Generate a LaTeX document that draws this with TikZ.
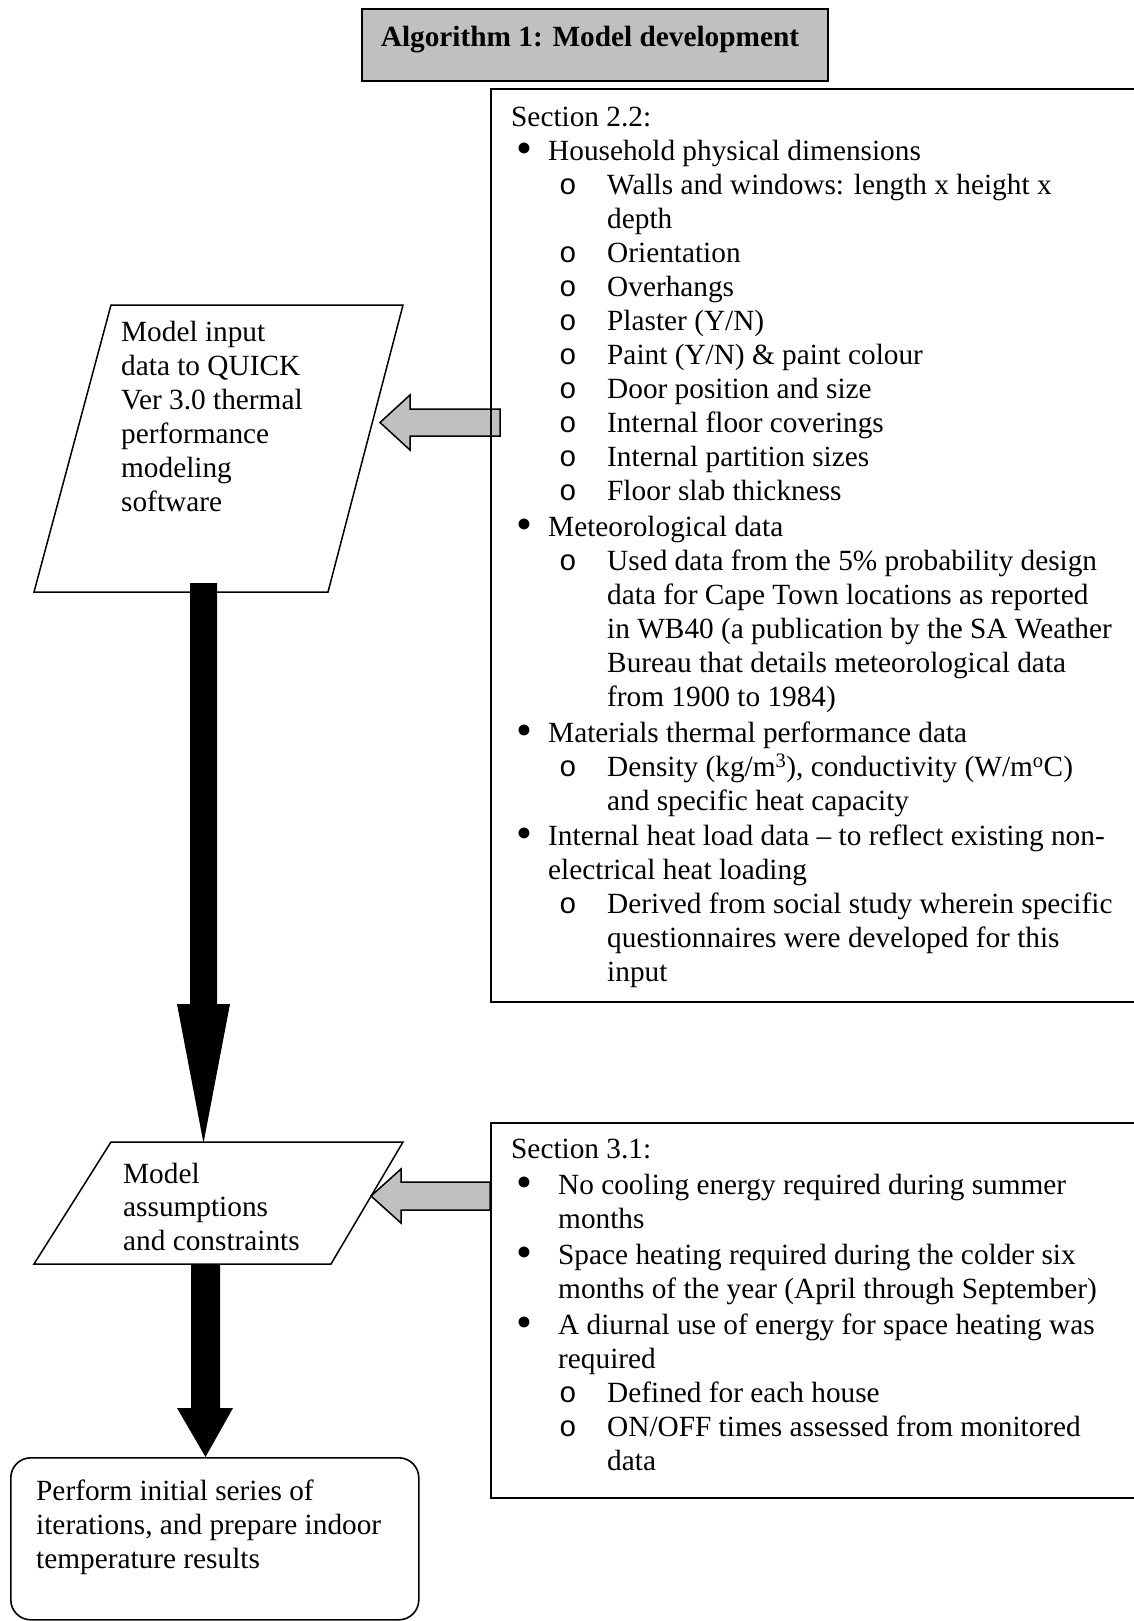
\documentclass[tikz,border=0pt]{standalone}
\usepackage{fontspec}
\usepackage{graphicx}
\setmainfont{Liberation Serif}
\newfontfamily\cour{Liberation Mono}
\definecolor{silver}{HTML}{C0C0C0}
\newcommand\tstrut{\rule{0pt}{25pt}}
\newcommand\bul{\raisebox{-3.5pt}{\scalebox{1.55}{•}}}
% level-1 bullet (text at 37pt), level-1 bullet wide (text at 47pt), continuation, level-2
\newcommand\lia[1]{\hspace*{5pt}\makebox[32pt][l]{\bul}#1}
\newcommand\lib[1]{\hspace*{5pt}\makebox[42pt][l]{\bul}#1}
\newcommand\lic[1]{\hspace*{37pt}#1}
\newcommand\lid[1]{\hspace*{47pt}#1}
\newcommand\lii[1]{\hspace*{48pt}\makebox[48pt][l]{\cour o}#1}
\newcommand\liic[1]{\hspace*{96pt}#1}
\begin{document}
\begin{tikzpicture}[x=1pt,y=-1pt,
  bx/.style={draw=black, line width=1.6pt, inner sep=0pt, anchor=north west},
  pl/.style={draw=black, line width=1.5pt, line join=miter},
  txt/.style={inner sep=0pt, anchor=north west, align=left, font=\fontsize{29.3}{34}\selectfont},
  hollow/.style={draw=black, line width=1.5pt, fill=silver, line join=miter},
  solidarrow/.style={fill=black}]
\useasboundingbox (0,0) rectangle (1134,1621);

% hollow arrows (drawn first so box borders lie on top)
\coordinate (h1tip) at (380,422.5);
\draw[hollow] (h1tip) -- (410,395) -- (410,409) -- (500,409) -- (500,436) -- (410,436) -- (410,450) -- cycle;
\coordinate (h2tip) at (371,1196);
\draw[hollow] (h2tip) -- (401,1169) -- (401,1182) -- (490,1182) -- (490,1210) -- (401,1210) -- (401,1223) -- cycle;

% title
\node[bx, fill=silver, minimum width=466pt, minimum height=72pt] (title) at (361,8) {};
\node[inner sep=0pt, anchor=base, font=\fontsize{29.3}{34}\selectfont\bfseries] (titletxt) at (590,47) {Algorithm 1: Model development};

% Section 2.2 box
\node[bx, minimum width=660pt, minimum height=913pt] (s22) at (490,88) {};
\node[txt] (s22t) at (511,101) {\tstrut Section 2.2:\\
\lia{Household physical dimensions}\\
\lii{Walls and windows: length x height x}\\
\liic{depth}\\
\lii{Orientation}\\
\lii{Overhangs}\\
\lii{Plaster (Y/N)}\\
\lii{Paint (Y/N) \& paint colour}\\
\lii{Door position and size}\\
\lii{Internal floor coverings}\\
\lii{Internal partition sizes}\\
\lii{Floor slab thickness}\\[2pt]
\lia{Meteorological data}\\
\lii{Used data from the 5\% probability design}\\
\liic{data for Cape Town locations as reported}\\
\liic{in WB40 (a publication by the SA Weather}\\
\liic{Bureau that details meteorological data}\\
\liic{from 1900 to 1984)}\\[2pt]
\lia{Materials thermal performance data}\\
\lii{Density (kg/m\textsuperscript{3}), conductivity (W/m\textsuperscript{o}C)}\\
\liic{and specific heat capacity}\\[1pt]
\lia{Internal heat load data -- to reflect existing non-}\\
\lic{electrical heat loading}\\
\lii{Derived from social study wherein specific}\\
\liic{questionnaires were developed for this}\\
\liic{input}};

% Section 3.1 box
\node[bx, minimum width=660pt, minimum height=375pt] (s31) at (490,1122) {};
\node[txt] (s31t) at (511,1133) {\tstrut Section 3.1:\\[2pt]
\lib{No cooling energy required during summer}\\
\lid{months}\\[2pt]
\lib{Space heating required during the colder six}\\
\lid{months of the year (April through September)}\\[2pt]
\lib{A diurnal use of energy for space heating was}\\
\lid{required}\\
\lii{Defined for each house}\\
\lii{ON/OFF times assessed from monitored}\\
\liic{data}};

% parallelogram 1
\coordinate (p1a) at (111,305);
\coordinate (p1b) at (403,305);
\coordinate (p1c) at (328,592);
\coordinate (p1d) at (34,592);
\draw[pl] (p1a) -- (p1b) -- (p1c) -- (p1d) -- cycle;
\node[txt] (p1t) at (121,316) {\tstrut Model input\\ data to QUICK\\ Ver 3.0 thermal\\ performance\\ modeling\\ software};

% parallelogram 2
\coordinate (p2a) at (111,1142);
\coordinate (p2b) at (403,1142);
\coordinate (p2c) at (331,1264);
\coordinate (p2d) at (34,1264);
\draw[pl] (p2a) -- (p2b) -- (p2c) -- (p2d) -- cycle;
\node[txt, font=\fontsize{29.3}{33.5}\selectfont] (p2t) at (123,1158) {\tstrut Model\\ assumptions\\ and constraints};

% result box
\node[bx, rounded corners=20pt, minimum width=408pt, minimum height=162pt] (res) at (10,1457) {};
\node[txt] (rest) at (36,1475) {\tstrut Perform initial series of\\ iterations, and prepare indoor\\ temperature results};

% black block arrows
\coordinate (b1s) at (203.5,583);
\coordinate (b1e) at (203.5,1143);
\fill[solidarrow] (190,583) -- (217,583) -- (217,1004) -- (230,1004) -- (b1e) -- (177,1004) -- (190,1004) -- cycle;
\coordinate (b2s) at (205.5,1264);
\coordinate (b2e) at (205.5,1457);
\fill[solidarrow] (191,1264) -- (220,1264) -- (220,1408) -- (233,1408) -- (b2e) -- (177,1408) -- (191,1408) -- cycle;
\end{tikzpicture}
\end{document}
